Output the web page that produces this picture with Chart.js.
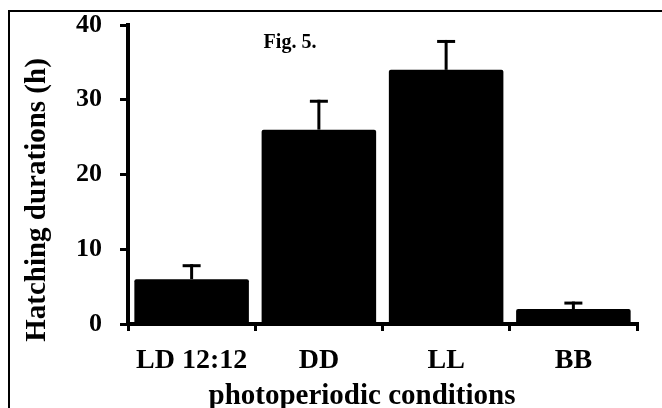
<!DOCTYPE html>
<html>
<head>
<meta charset="utf-8">
<script src="https://cdn.jsdelivr.net/npm/chart.js@4.4.1/dist/chart.umd.min.js"></script>
<style>
  html, body { margin: 0; padding: 0; background: #fff; }
  #wrap { width: 662px; height: 408px; position: relative; }
</style>
</head>
<body>
<div id="wrap"><canvas id="c" width="662" height="408"></canvas></div>
<script>
const categories = ['LD 12:12', 'DD', 'LL', 'BB'];
const means = [6, 26, 34, 2];
const errors = [2, 4, 4, 1];
const yTicks = [0, 10, 20, 30, 40];
const yTitle = 'Hatching durations (h)';
const xTitle = 'photoperiodic conditions';
const figLabel = 'Fig. 5.';

const SERIF = "'Liberation Serif', 'Times New Roman', serif";

const decorPlugin = {
  id: 'decor',
  afterDatasetsDraw(chart) {
    const ctx = chart.ctx;
    const y = chart.scales.y;
    ctx.save();
    ctx.strokeStyle = '#000';
    ctx.lineWidth = 3;
    const meta = chart.getDatasetMeta(0);
    means.forEach((m, i) => {
      const cx = meta.data[i].x;
      const y0 = y.getPixelForValue(m);
      const y1 = y.getPixelForValue(m + errors[i]);
      ctx.beginPath();
      ctx.moveTo(cx, y0);
      ctx.lineTo(cx, y1);
      ctx.stroke();
      ctx.beginPath();
      ctx.moveTo(cx - 9, y1 + 1.5);
      ctx.lineTo(cx + 9, y1 + 1.5);
      ctx.stroke();
    });
    ctx.restore();
  },
  afterDraw(chart) {
    const ctx = chart.ctx;
    ctx.save();
    ctx.strokeStyle = '#000';
    ctx.lineWidth = 2;
    ctx.beginPath();
    ctx.moveTo(9, 408);
    ctx.lineTo(9, 11);
    ctx.lineTo(662, 11);
    ctx.stroke();
    ctx.fillStyle = '#000';
    ctx.font = "bold 29px " + SERIF;
    ctx.textAlign = 'center';
    ctx.textBaseline = 'alphabetic';
    ctx.save();
    ctx.translate(45, 200);
    ctx.rotate(-Math.PI / 2);
    ctx.fillText(yTitle, 0, 0);
    ctx.restore();
    ctx.fillText(xTitle, 362, 404);
    ctx.font = "bold 20px " + SERIF;
    ctx.fillText(figLabel, 290, 48);
    ctx.restore();
  }
};

new Chart(document.getElementById('c'), {
  type: 'bar',
  data: {
    labels: categories,
    datasets: [{
      data: means,
      backgroundColor: '#000',
      borderWidth: 0,
      borderRadius: 2,
      borderSkipped: 'bottom',
      categoryPercentage: 1.0,
      barPercentage: 0.9
    }]
  },
  options: {
    responsive: false,
    animation: false,
    events: [],
    layout: { padding: { left: 0, right: 25, top: 25, bottom: 0 } },
    plugins: { legend: { display: false }, tooltip: { enabled: false }, title: { display: false } },
    scales: {
      x: {
        grid: { display: true, drawOnChartArea: false, offset: true, color: '#000', lineWidth: 3, tickLength: 7 },
        border: { display: true, color: '#000', width: 4 },
        ticks: { color: '#000', padding: 13, font: { family: SERIF, size: 28, weight: 'bold' } },
        afterFit(s) { s.height = 84; s.paddingLeft = 0; s.paddingRight = 0; }
      },
      y: {
        min: 0, max: 40,
        afterBuildTicks(s) { s.ticks = yTicks.map(v => ({ value: v })); },
        grid: { display: true, drawOnChartArea: false, color: '#000', lineWidth: 3, tickLength: 8 },
        border: { display: true, color: '#000', width: 4 },
        ticks: { color: '#000', padding: 18, font: { family: SERIF, size: 26, weight: 'bold' } },
        afterFit(s) { s.width = 128; s.paddingTop = 0; s.paddingBottom = 0; }
      }
    }
  },
  plugins: [decorPlugin]
});
</script>
</body>
</html>
